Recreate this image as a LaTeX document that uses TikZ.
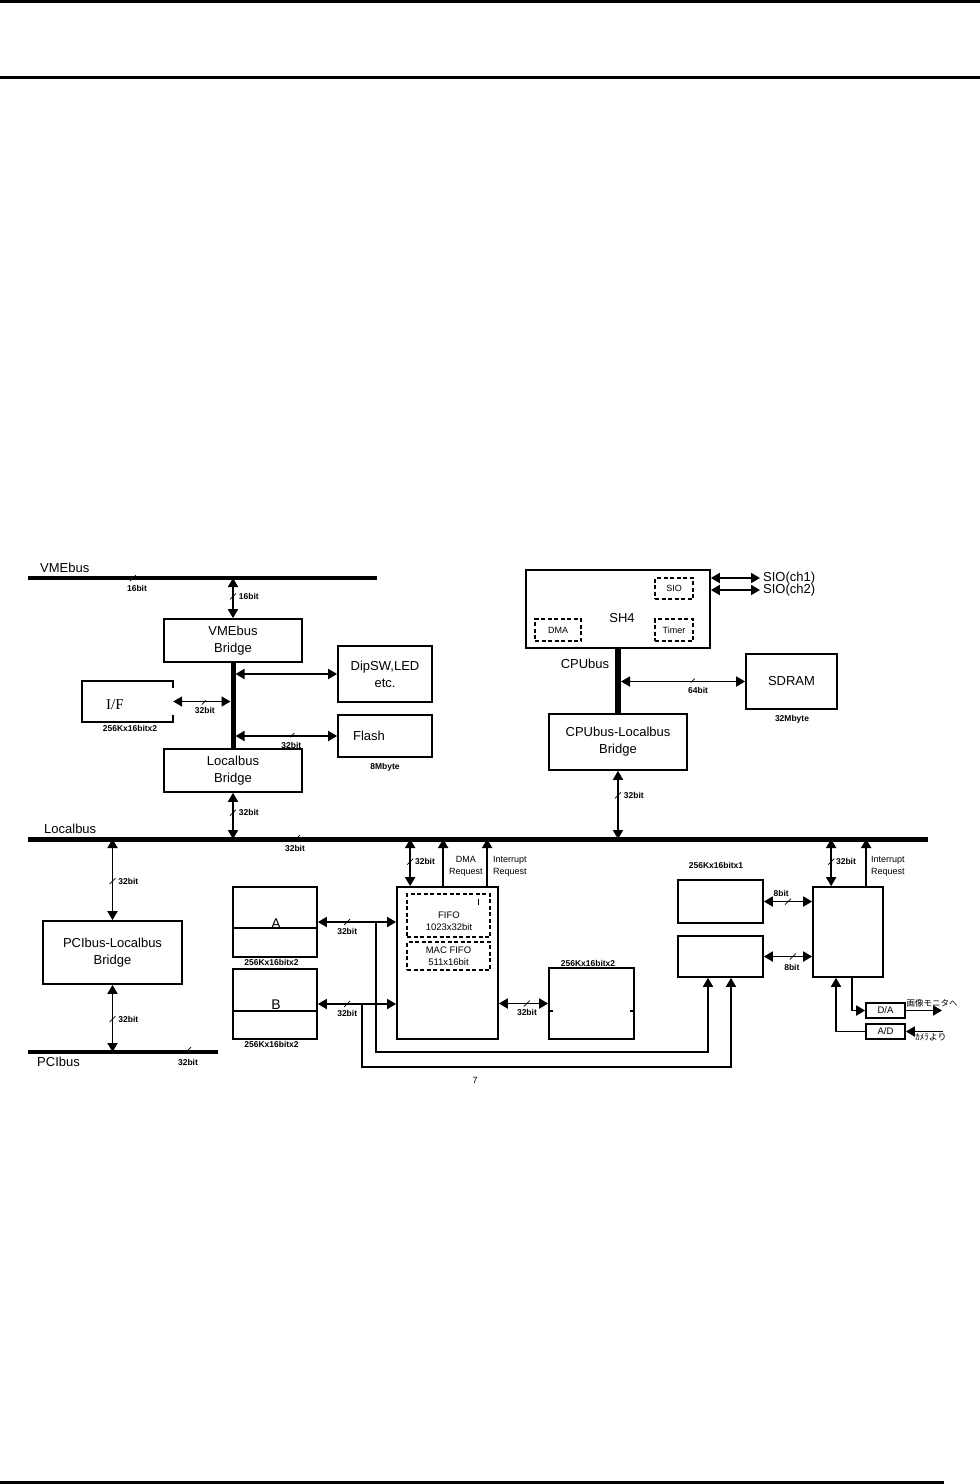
\documentclass[tikz,border=0pt]{standalone}
\usepackage{fontspec}
\setmainfont{Liberation Sans}
\newfontfamily\jpfont{Noto Sans CJK JP}
\newfontfamily\seriffont{Liberation Serif}
\usetikzlibrary{arrows.meta}

\tikzset{bitmark/.pic={\draw[-, line width=0.7pt] (-3pt,-3pt) -- (3pt,3pt);}}

\begin{document}
\begin{tikzpicture}[x=1pt, y=-1pt, >={Triangle[width=10pt,length=9pt]},
  box/.style={draw, line width=1.7pt, inner sep=0pt, align=center, font=\fontsize{13}{17}\selectfont},
  dbox/.style={draw, dash pattern=on 4pt off 2.5pt, line width=1.3pt, inner sep=0pt, align=center, font=\fontsize{9}{12}\selectfont},
  txt/.style={inner sep=0pt, align=center, font=\fontsize{13}{17}\selectfont},
  small/.style={inner sep=0pt, align=center, font=\fontsize{9}{11.5}\selectfont},
  bw/.style={inner sep=0pt, font=\bfseries\fontsize{8.5}{10}\selectfont},
  bus/.style={line width=4pt},
  ln/.style={line width=1.8pt},
  dbl/.style={ln, <->},
  uni/.style={ln, ->}]
\useasboundingbox (0,0) rectangle (980,1484);
% page rules
\draw[line width=2.5pt] (0,1.5) -- (980,1.5);
\draw[line width=3.3pt] (0,77.7) -- (980,77.7);
\draw[line width=3.3pt] (0,1482.3) -- (944,1482.3);

% buses
\coordinate (vmeL) at (28,578); \coordinate (vmeR) at (377,578);
\coordinate (lbL) at (28,839); \coordinate (lbR) at (928,839);
\coordinate (pciL) at (28,1052); \coordinate (pciR) at (218,1052);
\draw[bus] (vmeL) -- (vmeR);
\draw[bus, line width=5pt] (lbL) -- (lbR);
\draw[bus] (pciL) -- (pciR);
\node[txt, anchor=west] (vmename) at (40,568) {VMEbus};
\node[txt, anchor=west] (lbname) at (44,829) {Localbus};
\node[txt, anchor=west] (pciname) at (37,1062) {PCIbus};
\pic at (133,578) {bitmark}; \node[bw] (vmew) at (137,588) {16bit};
\pic at (297,838) {bitmark}; \node[bw] (lbw) at (295,848) {32bit};
\pic at (188,1050) {bitmark}; \node[bw] (pciw) at (188,1062) {32bit};

% VMEbus side
\node[box, minimum width=138pt, minimum height=43pt] (vmebr) at (233,640.5) {VMEbus\\Bridge};
\node[box, minimum width=138pt, minimum height=43pt] (lbbr) at (233,770.5) {Localbus\\Bridge};
\node[box, minimum width=94pt, minimum height=56pt] (dipsw) at (385,674) {DipSW,LED\\etc.};
\node[box, minimum width=94pt, minimum height=42pt] (flash) at (385,736) {};
\node[txt] (flashname) at (369,736) {Flash};
\node[bw] (flashsize) at (385,767) {8Mbyte};
\node[inner sep=0pt, minimum width=91pt, minimum height=41pt] (ifb) at (127.5,701.5) {};
\draw[line width=1.7pt] ([yshift=-7pt]ifb.north east) -- (ifb.north east) -- (ifb.north west)
  -- (ifb.south west) -- (ifb.south east) -- ([yshift=7pt]ifb.south east);
\node[inner sep=0pt, font=\seriffont\fontsize{15}{15}\selectfont] (ifname) at (115,705) {I/F};
\node[bw] (ifsize) at (130,728.5) {256Kx16bitx2};

\draw[dbl] (vmebr.north |- vmeL) -- pic[pos=.46]{bitmark} node[pos=.46, right=5pt, bw] (vmebw) {16bit} (vmebr.north);
\draw[line width=5pt] (vmebr.south) -- (lbbr.north);
\draw[dbl, shorten <=2.5pt] (dipsw.west -| vmebr.south) -- (dipsw.west);
\draw[dbl, shorten >=2.5pt] (ifb.east) -- pic[pos=.53]{bitmark} node[pos=.53, below=5pt, bw] (ifw) {32bit} (ifb.east -| vmebr.south);
\draw[dbl, shorten <=2.5pt] (flash.west -| vmebr.south) -- pic[pos=.56]{bitmark} node[pos=.56, below=5pt, bw] (flw) {32bit} (flash.west);
\draw[dbl] (lbbr.south) -- pic[pos=.43]{bitmark} node[pos=.43, right=5pt, bw] (lbbw) {32bit} (lbbr.south |- lbL);

% CPU side
\node[box, minimum width=184pt, minimum height=78pt] (sh4) at (618,609) {};
\node[txt] (sh4name) at (622,618) {SH4};
\node[dbox, minimum width=38pt, minimum height=21pt] (sio) at (674,588.5) {SIO};
\node[dbox, minimum width=46pt, minimum height=22pt] (dma) at (558,630) {DMA};
\node[dbox, minimum width=38pt, minimum height=22pt] (timer) at (674,630) {Timer};
\node[txt, anchor=west, inner sep=3pt] (sio1) at (760,578) {SIO(ch1)};
\node[txt, anchor=west, inner sep=3pt] (sio2) at (760,590) {SIO(ch2)};
\draw[dbl] (sio1.west -| sh4.east) -- (sio1.west);
\draw[dbl] (sio2.west -| sh4.east) -- (sio2.west);
\node[box, minimum width=91pt, minimum height=55pt] (sdram) at (791.5,681.5) {SDRAM};
\node[bw] (sdramsize) at (792,719) {32Mbyte};
\node[box, minimum width=138pt, minimum height=56pt] (cpubr) at (618,742) {CPUbus-Localbus\\Bridge};
\draw[line width=6pt] (sh4.south) -- (cpubr.north);
\node[txt] (cpuname) at (585,664) {CPUbus};
\draw[dbl, shorten <=3pt] (sdram.west -| sh4.south) -- pic[pos=.58]{bitmark} node[pos=.63, below=5pt, bw] (sdw) {64bit} (sdram.west);
\draw[dbl] (cpubr.south) -- pic[pos=.36]{bitmark} node[pos=.36, right=5pt, bw] (cpuw) {32bit} (cpubr.south |- lbL);

% PCI side
\node[box, minimum width=139pt, minimum height=63pt] (pcibr) at (112.5,952.5) {PCIbus-Localbus\\Bridge};
\draw[dbl] (pcibr.north |- lbL) -- pic[pos=.52]{bitmark} node[pos=.52, right=5pt, bw] (pciw1) {32bit} (pcibr.north);
\draw[dbl] (pcibr.south) -- pic[pos=.51]{bitmark} node[pos=.51, right=5pt, bw] (pciw2) {32bit} (pcibr.south |- pciL);

% memories and controller
\node[box, minimum width=84pt, minimum height=70pt] (memA) at (275,922) {};
\node[box, minimum width=84pt, minimum height=70pt] (memB) at (275,1004) {};
\draw[line width=1.7pt] ([yshift=-6pt]memA.west) -- ([yshift=-6pt]memA.east);
\draw[line width=1.7pt] ([yshift=-7pt]memB.west) -- ([yshift=-7pt]memB.east);
\node[txt, anchor=south, font=\fontsize{14}{14}\selectfont] (aname) at (276,928.5) {A};
\node[txt, anchor=south, font=\fontsize{14}{14}\selectfont] (bname) at (276,1010) {B};
\node[bw] (asize) at (271.5,962) {256Kx16bitx2};
\node[bw] (bsize) at (271.5,1044.5) {256Kx16bitx2};

\node[box, minimum width=101pt, minimum height=152pt] (ctrl) at (447.5,963) {};
\node[dbox, minimum width=83pt, minimum height=43pt] (fifo) at (448.5,915.5) {};
\node[small, font=\fontsize{9.5}{12}\selectfont] (fifoname) at (449,921) {FIFO\\1023x32bit};
\draw[line width=0.8pt] (478,899) -- (478,905);
\node[dbox, minimum width=83pt, minimum height=28pt, font=\fontsize{9.5}{12}\selectfont] (macfifo) at (448.5,956) {MAC FIFO\\511x16bit};

\draw[dbl] (memA.east) -- pic[pos=.375]{bitmark} node[pos=.375, below=5pt, bw] (aw) {32bit} (memA.east -| ctrl.west);
\draw[dbl] (memB.east) -- pic[pos=.375]{bitmark} node[pos=.375, below=5pt, bw] (bw) {32bit} (memB.east -| ctrl.west);

\coordinate (ctA) at ([xshift=14pt]ctrl.north west);
\coordinate (ctB) at ([xshift=47pt]ctrl.north west);
\coordinate (ctC) at ([xshift=91pt]ctrl.north west);
\draw[dbl] (ctA |- lbL) -- pic[pos=.48]{bitmark} node[pos=.48, right=4pt, bw] (ctw) {32bit} (ctA);
\draw[uni] (ctB) -- node[pos=.42, right=5pt, small] (dmarq) {DMA\\Request} (ctB |- lbL);
\draw[uni] (ctC) -- node[pos=.42, right=5pt, small] (intrq1) {Interrupt\\Request} (ctC |- lbL);

\node[box, minimum width=85pt, minimum height=71pt] (memC) at (591.5,1003.5) {};
\draw[line width=1.7pt] ([yshift=-7.5pt]memC.west) -- ++(5,0);
\draw[line width=1.7pt] ([yshift=-7.5pt]memC.east) -- ++(-5,0);
\node[bw] (csize) at (588,963) {256Kx16bitx2};
\draw[dbl] (memC.west -| ctrl.east) -- pic[pos=.57]{bitmark} node[pos=.57, below=5pt, bw] (cw) {32bit} (memC.west);

% video side
\node[box, minimum width=85pt, minimum height=43pt] (memD) at (720.5,901.5) {};
\node[box, minimum width=85pt, minimum height=41pt] (memE) at (720.5,956.5) {};
\node[bw] (dsize) at (716,865) {256Kx16bitx1};
\node[box, minimum width=70pt, minimum height=90pt] (vctrl) at (848,932) {};
\coordinate (vcA) at ([xshift=19pt]vctrl.north west);
\coordinate (vcB) at ([xshift=54pt]vctrl.north west);
\draw[dbl] (vcA |- lbL) -- pic[pos=.48]{bitmark} node[pos=.48, right=4pt, bw] (vcw) {32bit} (vcA);
\draw[uni] (vcB) -- node[pos=.42, right=4pt, small] (intrq2) {Interrupt\\Request} (vcB |- lbL);
\draw[dbl] (memD.east) -- pic[pos=.5]{bitmark} node[pos=.36, above=4pt, bw] (dw) {8bit} (memD.east -| vctrl.west);
\draw[dbl] (memE.east) -- pic[pos=.6]{bitmark} node[pos=.58, below=7pt, bw] (ew) {8bit} (memE.east -| vctrl.west);

\coordinate (jA) at (376,922);
\coordinate (jB) at (362,1004);
\draw[uni] (jA) -- ++(0,130) -| ([xshift=-12.5pt]memE.south);
\draw[uni] (jB) -- ++(0,63) -| ([xshift=10.5pt]memE.south);

\node[box, minimum width=39pt, minimum height=15pt, font=\fontsize{9.5}{10}\selectfont] (da) at (885.5,1010.5) {D/A};
\node[box, minimum width=39pt, minimum height=15pt, font=\fontsize{9.5}{10}\selectfont] (ad) at (885.5,1031.5) {A/D};
\draw[uni] ([xshift=4pt]vctrl.south) |- (da.west);
\draw[uni] (ad.west) -| ([xshift=-12pt]vctrl.south);
\coordinate (tvout) at (942,1010.5);
\coordinate (camin) at (943,1031.5);
\draw[uni] (da.east) -- (tvout);
\draw[uni] (camin) -- (ad.east);
\node[inner sep=0pt, font=\jpfont\fontsize{8.5}{9}\selectfont] (tvname) at (932,1003) {画像モニタへ};
\node[inner sep=0pt, font=\jpfont\fontsize{9}{9}\selectfont] (camname) at (931,1037) {ｶﾒﾗより};

\node[inner sep=0pt, font=\fontsize{9}{9}\selectfont] (pageno) at (475,1080) {7};
\end{tikzpicture}
\end{document}
